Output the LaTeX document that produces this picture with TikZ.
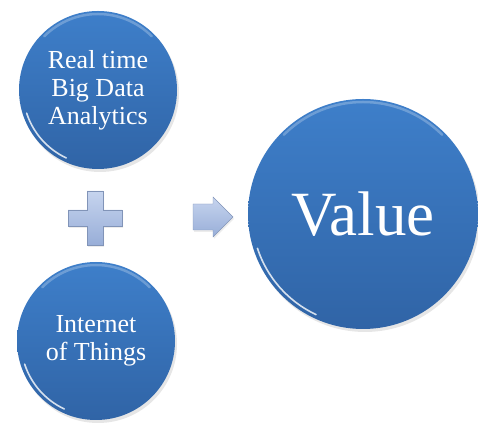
\documentclass[tikz,border=0pt]{standalone}
\usepackage{fontspec}
\setmainfont{Liberation Serif}
\usetikzlibrary{shadows}
\definecolor{balltop}{HTML}{3E7FCA}
\definecolor{ballbottom}{HTML}{3064A6}
\definecolor{signtop}{HTML}{C6D4EE}
\definecolor{signbottom}{HTML}{98AED8}
\tikzset{ball/.style={circle, minimum size=#1, inner sep=0pt, top color=balltop, bottom color=ballbottom,
           text=white, align=center, font=\fontsize{26}{28}\selectfont,
           drop shadow={opacity=.2, shadow xshift=2pt, shadow yshift=-3pt}},
         glint/.style={white, line cap=round},
         sign/.style={top color=signtop, bottom color=signbottom, draw=signbottom!85!black, line width=.4pt,
           drop shadow={opacity=.15, shadow xshift=1pt, shadow yshift=-2pt}}}

\begin{document}
\begin{tikzpicture}[x=1pt, y=1pt]
  \useasboundingbox (0,0) rectangle (478,427);
  \node[ball=158] (bigdata) at ( 98,337) {Real time\\Big Data\\Analytics};
  \node[ball=158] (iot)     at ( 96, 86) {Internet\\of Things};
  \node[ball=230, font=\fontsize{63}{70}\selectfont] (value) at (363,213) {Value};
  \foreach \n/\r in {bigdata/79, iot/79, value/115} {
    \draw[glint, opacity=.8, line width=1.6pt] (\n.center) ++(198:\r-4) arc[start angle=198, end angle=245, radius=\r-4];
    \draw[glint, opacity=.25, line width=2.5pt] (\n.center) ++(45:\r-3) arc[start angle=45, end angle=135, radius=\r-3];
  }
  \coordinate (plus) at (95,209);
  \coordinate (arrow) at (213,210);
  \begin{scope}[shift={(plus)}]
    \draw[sign] (-8,27) -- (8,27) -- (8,8) -- (27,8) -- (27,-8) -- (8,-8) -- (8,-27)
      -- (-8,-27) -- (-8,-8) -- (-27,-8) -- (-27,8) -- (-8,8) -- cycle;
  \end{scope}
  \begin{scope}[shift={(arrow)}]
    \draw[sign] (-20,13) -- (0,13) -- (0,20) -- (20,0) -- (0,-20) -- (0,-13) -- (-20,-13) -- cycle;
  \end{scope}
\end{tikzpicture}
\end{document}
